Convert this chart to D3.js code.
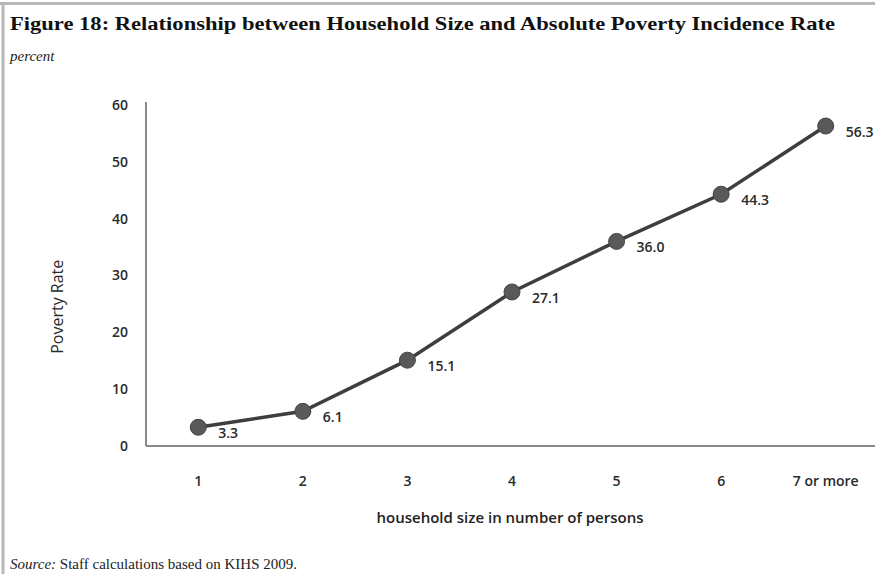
<!DOCTYPE html>
<html>
<head>
<meta charset="utf-8">
<script src="https://cdn.jsdelivr.net/npm/d3@7"></script>
<style>
  html, body { margin: 0; padding: 0; background: #fff; }
  svg { display: block; }
</style>
</head>
<body>
<svg id="chart" width="875" height="574"></svg>
<script>
// Household size categories and poverty incidence (%)
const categories = ["1", "2", "3", "4", "5", "6", "7 or more"];
const povertyRate = [3.3, 6.1, 15.1, 27.1, 36.0, 44.3, 56.3];
const yTicks = [0, 10, 20, 30, 40, 50, 60];

const svg = d3.select("#chart");
const W = 875, H = 574;
const sans = "'Open Sans', 'DejaVu Sans', sans-serif";
const serif = "'Liberation Serif', 'DejaVu Serif', serif";

// page frame (top and left rules)
svg.append("line").attr("x1", 0).attr("x2", W).attr("y1", 3.5).attr("y2", 3.5)
  .attr("stroke", "#b8b8b8").attr("stroke-width", 3);
svg.append("line").attr("x1", 3).attr("x2", 3).attr("y1", 2).attr("y2", H)
  .attr("stroke", "#b8b8b8").attr("stroke-width", 3);

// title block
svg.append("text").attr("x", 10).attr("y", 30)
  .attr("font-family", serif).attr("font-weight", "bold").attr("font-size", 19)
  .attr("textLength", 825).attr("lengthAdjust", "spacingAndGlyphs")
  .attr("fill", "#111")
  .text("Figure 18: Relationship between Household Size and Absolute Poverty Incidence Rate");
svg.append("text").attr("x", 10).attr("y", 61)
  .attr("font-family", serif).attr("font-style", "italic").attr("font-size", 15)
  .attr("fill", "#222").text("percent");

// scales
const x = d3.scaleBand().domain(categories).range([146, 878]);
const y = d3.scaleLinear().domain([0, 60]).range([446, 105]);

// axes
const gx = svg.append("g").attr("transform", `translate(0,${y(0)})`)
  .call(d3.axisBottom(x).tickSize(0).tickPadding(30));
gx.select(".domain").attr("stroke", "#8a8a8a").attr("stroke-width", 2)
  .attr("d", `M146,0H875`);
gx.selectAll("text").attr("font-family", sans).attr("font-size", 14)
  .attr("font-weight", 600).attr("fill", "#2a2a2a");

const gy = svg.append("g").attr("transform", `translate(146,0)`)
  .call(d3.axisLeft(y).tickValues(yTicks).tickSize(0).tickPadding(18));
gy.select(".domain").attr("stroke", "#8a8a8a").attr("stroke-width", 2)
  .attr("d", `M0,102V${y(0)}`);
gy.selectAll("text").attr("font-family", sans).attr("font-size", 14)
  .attr("font-weight", 600).attr("fill", "#2a2a2a");

// axis titles
svg.append("text")
  .attr("transform", `translate(63,${y(24.5)}) rotate(-90)`)
  .attr("text-anchor", "middle")
  .attr("font-family", sans).attr("font-size", 16).attr("fill", "#2a2a2a")
  .text("Poverty Rate");
svg.append("text").attr("x", 510).attr("y", 523)
  .attr("text-anchor", "middle")
  .attr("font-family", sans).attr("font-size", 15).attr("font-weight", 600)
  .attr("fill", "#222")
  .text("household size in number of  persons");

// series line and markers
const pts = categories.map((c, i) => ({ c, v: povertyRate[i] }));
const cx = d => x(d.c) + x.bandwidth() / 2;

svg.append("path").datum(pts)
  .attr("fill", "none").attr("stroke", "#3e3e3e").attr("stroke-width", 3.5)
  .attr("d", d3.line().x(cx).y(d => y(d.v)));

svg.selectAll("circle.pt").data(pts).join("circle")
  .attr("class", "pt")
  .attr("cx", cx).attr("cy", d => y(d.v)).attr("r", 8)
  .attr("fill", "#595959").attr("stroke", "#444").attr("stroke-width", 1);

// value labels
svg.selectAll("text.val").data(pts).join("text")
  .attr("class", "val")
  .attr("x", d => cx(d) + 20).attr("y", d => y(d.v) + 11)
  .attr("font-family", sans).attr("font-size", 14).attr("font-weight", 600)
  .attr("fill", "#2a2a2a")
  .text(d => d.v.toFixed(1));

// source note
const src = svg.append("text").attr("x", 10).attr("y", 569)
  .attr("font-family", serif).attr("font-size", 15).attr("fill", "#222");
src.append("tspan").attr("font-style", "italic").text("Source:");
src.append("tspan").text(" Staff calculations based on KIHS 2009.");
</script>
</body>
</html>
